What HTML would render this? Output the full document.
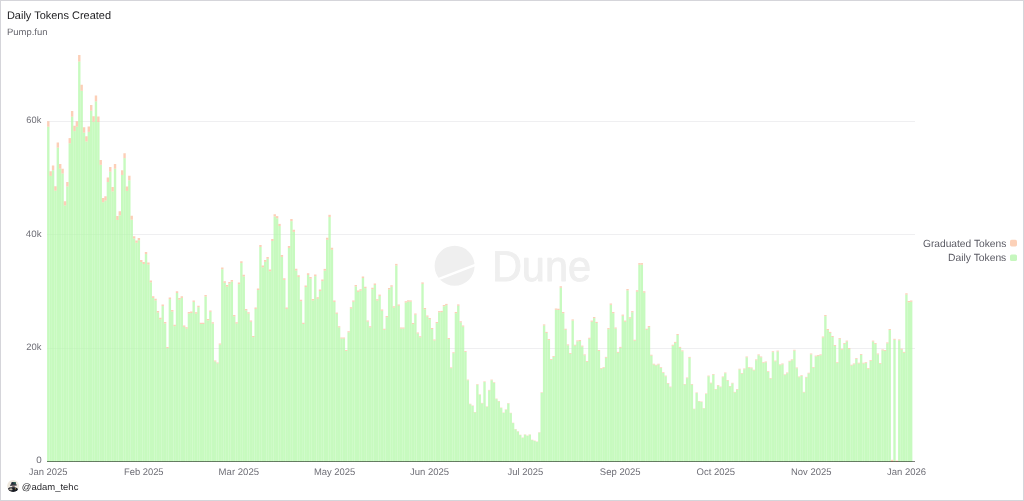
<!DOCTYPE html>
<html><head><meta charset="utf-8">
<style>
html,body{margin:0;padding:0;background:#fff;}
body{width:1024px;height:501px;overflow:hidden;position:relative;font-family:"Liberation Sans",sans-serif;}
.frame{position:absolute;left:0;top:0;width:1022px;height:499px;border:1px solid #d5d5da;}
.title{position:absolute;left:7px;top:7px;font-size:10.8px;color:#1d1d20;white-space:nowrap;line-height:13px;}
.sub{position:absolute;left:7px;top:25px;font-size:9.2px;color:#6e6e76;white-space:nowrap;line-height:12px;}
svg{position:absolute;left:0;top:0;will-change:transform;text-rendering:geometricPrecision;}
.tt text{font-family:"Liberation Sans",sans-serif;}
.ax text{font-family:"Liberation Sans",sans-serif;font-size:9.1px;fill:#6e6e76;}
.lg text{font-family:"Liberation Sans",sans-serif;font-size:10.1px;fill:#5a5a63;}
.user{position:absolute;left:23px;top:480px;font-size:9.2px;color:#35353a;white-space:nowrap;line-height:12px;}
</style></head><body>
<div class="frame"></div>
<svg width="1024" height="501" viewBox="0 0 1024 501">
<g fill="#efeff1">
<rect x="47" y="121" width="868" height="1"/>
<rect x="47" y="234" width="868" height="1"/>
<rect x="47" y="348" width="868" height="1"/>
</g>
<g fill="#efefef">
<circle cx="454.6" cy="265.8" r="20"/>
</g>
<line x1="430" y1="282.3" x2="480" y2="263.2" stroke="#fff" stroke-width="2.4"/>
<text transform="translate(491.9,281.3) scale(0.965,1)" font-family="Liberation Sans,sans-serif" font-size="43" fill="#efefef" stroke="#efefef" stroke-width="0.9" stroke-linejoin="round">Dune</text>
<g fill="rgba(180,248,170,0.75)" shape-rendering="auto">
<rect x="47.10" y="126.70" width="2.384" height="335.30"/><rect x="49.48" y="175.90" width="2.384" height="286.10"/><rect x="51.87" y="170.24" width="2.384" height="291.76"/><rect x="54.25" y="190.66" width="2.384" height="271.34"/><rect x="56.63" y="147.61" width="2.384" height="314.39"/><rect x="59.02" y="168.77" width="2.384" height="293.23"/><rect x="61.40" y="173.44" width="2.384" height="288.56"/><rect x="63.79" y="205.42" width="2.384" height="256.58"/><rect x="66.17" y="186.48" width="2.384" height="275.52"/><rect x="68.55" y="143.28" width="2.384" height="318.72"/><rect x="70.94" y="116.62" width="2.384" height="345.38"/><rect x="73.32" y="131.13" width="2.384" height="330.87"/><rect x="75.70" y="126.70" width="2.384" height="335.30"/><rect x="78.09" y="61.51" width="2.384" height="400.49"/><rect x="80.47" y="90.79" width="2.384" height="371.21"/><rect x="82.86" y="132.61" width="2.384" height="329.39"/><rect x="85.24" y="141.46" width="2.384" height="320.54"/><rect x="87.62" y="131.87" width="2.384" height="330.13"/><rect x="90.01" y="110.71" width="2.384" height="351.29"/><rect x="92.39" y="121.78" width="2.384" height="340.22"/><rect x="94.77" y="101.36" width="2.384" height="360.64"/><rect x="97.16" y="122.03" width="2.384" height="339.97"/><rect x="99.54" y="164.83" width="2.384" height="297.17"/><rect x="101.93" y="202.22" width="2.384" height="259.78"/><rect x="104.31" y="200.50" width="2.384" height="261.50"/><rect x="106.69" y="182.05" width="2.384" height="279.95"/><rect x="109.08" y="171.72" width="2.384" height="290.28"/><rect x="111.46" y="191.40" width="2.384" height="270.60"/><rect x="113.84" y="168.77" width="2.384" height="293.23"/><rect x="116.23" y="219.94" width="2.384" height="242.06"/><rect x="118.61" y="215.26" width="2.384" height="246.74"/><rect x="120.99" y="174.97" width="2.384" height="287.03"/><rect x="123.38" y="158.19" width="2.384" height="303.81"/><rect x="125.76" y="190.91" width="2.384" height="271.09"/><rect x="128.15" y="180.33" width="2.384" height="281.67"/><rect x="130.53" y="219.69" width="2.384" height="242.31"/><rect x="132.91" y="238.51" width="2.384" height="223.49"/><rect x="135.30" y="242.72" width="2.384" height="219.28"/><rect x="137.68" y="240.24" width="2.384" height="221.76"/><rect x="140.06" y="262.02" width="2.384" height="199.98"/><rect x="142.45" y="264.00" width="2.384" height="198.00"/><rect x="144.83" y="254.10" width="2.384" height="207.90"/><rect x="147.22" y="264.50" width="2.384" height="197.50"/><rect x="149.60" y="282.31" width="2.384" height="179.69"/><rect x="151.98" y="297.91" width="2.384" height="164.09"/><rect x="154.37" y="300.38" width="2.384" height="161.62"/><rect x="156.75" y="312.51" width="2.384" height="149.49"/><rect x="159.13" y="319.19" width="2.384" height="142.81"/><rect x="161.52" y="306.07" width="2.384" height="155.93"/><rect x="163.90" y="323.40" width="2.384" height="138.60"/><rect x="166.28" y="348.15" width="2.384" height="113.85"/><rect x="168.67" y="299.14" width="2.384" height="162.86"/><rect x="171.05" y="311.52" width="2.384" height="150.48"/><rect x="173.44" y="326.12" width="2.384" height="135.88"/><rect x="175.82" y="292.96" width="2.384" height="169.04"/><rect x="178.20" y="299.64" width="2.384" height="162.36"/><rect x="180.59" y="297.91" width="2.384" height="164.09"/><rect x="182.97" y="326.87" width="2.384" height="135.13"/><rect x="185.35" y="328.60" width="2.384" height="133.40"/><rect x="187.74" y="313.50" width="2.384" height="148.50"/><rect x="190.12" y="313.00" width="2.384" height="149.00"/><rect x="192.51" y="301.95" width="2.384" height="160.05"/><rect x="194.89" y="313.60" width="2.384" height="148.40"/><rect x="197.27" y="307.16" width="2.384" height="154.84"/><rect x="199.66" y="324.00" width="2.384" height="138.00"/><rect x="202.04" y="324.00" width="2.384" height="138.00"/><rect x="204.42" y="296.50" width="2.384" height="165.50"/><rect x="206.81" y="320.29" width="2.384" height="141.71"/><rect x="209.19" y="311.86" width="2.384" height="150.14"/><rect x="211.58" y="323.51" width="2.384" height="138.49"/><rect x="213.96" y="361.41" width="2.384" height="100.59"/><rect x="216.34" y="363.40" width="2.384" height="98.60"/><rect x="218.73" y="344.57" width="2.384" height="117.43"/><rect x="221.11" y="269.25" width="2.384" height="192.75"/><rect x="223.49" y="282.88" width="2.384" height="179.12"/><rect x="225.88" y="286.59" width="2.384" height="175.41"/><rect x="228.26" y="283.62" width="2.384" height="178.38"/><rect x="230.64" y="281.64" width="2.384" height="180.36"/><rect x="233.03" y="316.32" width="2.384" height="145.68"/><rect x="235.41" y="323.51" width="2.384" height="138.49"/><rect x="237.80" y="284.12" width="2.384" height="177.88"/><rect x="240.18" y="263.06" width="2.384" height="198.94"/><rect x="242.56" y="276.44" width="2.384" height="185.56"/><rect x="244.95" y="310.38" width="2.384" height="151.62"/><rect x="247.33" y="313.60" width="2.384" height="148.40"/><rect x="249.71" y="321.77" width="2.384" height="140.23"/><rect x="252.10" y="337.13" width="2.384" height="124.87"/><rect x="254.48" y="308.89" width="2.384" height="153.11"/><rect x="256.87" y="290.06" width="2.384" height="171.94"/><rect x="259.25" y="246.95" width="2.384" height="215.05"/><rect x="261.63" y="267.27" width="2.384" height="194.73"/><rect x="264.02" y="261.82" width="2.384" height="200.18"/><rect x="266.40" y="258.85" width="2.384" height="203.15"/><rect x="268.78" y="271.23" width="2.384" height="190.77"/><rect x="271.17" y="241.01" width="2.384" height="220.99"/><rect x="273.55" y="216.48" width="2.384" height="245.52"/><rect x="275.94" y="218.31" width="2.384" height="243.69"/><rect x="278.32" y="226.04" width="2.384" height="235.96"/><rect x="280.70" y="256.86" width="2.384" height="205.14"/><rect x="283.09" y="279.90" width="2.384" height="182.10"/><rect x="285.47" y="308.89" width="2.384" height="153.11"/><rect x="287.85" y="247.94" width="2.384" height="214.06"/><rect x="290.24" y="221.19" width="2.384" height="240.81"/><rect x="292.62" y="231.84" width="2.384" height="230.16"/><rect x="295.00" y="270.49" width="2.384" height="191.51"/><rect x="297.39" y="276.93" width="2.384" height="185.07"/><rect x="299.77" y="301.21" width="2.384" height="160.79"/><rect x="302.16" y="324.00" width="2.384" height="138.00"/><rect x="304.54" y="287.09" width="2.384" height="174.91"/><rect x="306.92" y="274.95" width="2.384" height="187.05"/><rect x="309.31" y="278.67" width="2.384" height="183.33"/><rect x="311.69" y="300.47" width="2.384" height="161.53"/><rect x="314.07" y="276.19" width="2.384" height="185.81"/><rect x="316.46" y="298.73" width="2.384" height="163.27"/><rect x="318.84" y="291.05" width="2.384" height="170.95"/><rect x="321.23" y="281.14" width="2.384" height="180.86"/><rect x="323.61" y="270.64" width="2.384" height="191.36"/><rect x="325.99" y="239.77" width="2.384" height="222.23"/><rect x="328.38" y="217.02" width="2.384" height="244.98"/><rect x="330.76" y="249.68" width="2.384" height="212.32"/><rect x="333.14" y="301.95" width="2.384" height="160.05"/><rect x="335.53" y="313.80" width="2.384" height="148.20"/><rect x="337.91" y="327.34" width="2.384" height="134.66"/><rect x="340.30" y="338.50" width="2.384" height="123.50"/><rect x="342.68" y="338.50" width="2.384" height="123.50"/><rect x="345.06" y="350.90" width="2.384" height="111.10"/><rect x="347.45" y="332.30" width="2.384" height="129.70"/><rect x="349.83" y="308.49" width="2.384" height="153.51"/><rect x="352.21" y="301.79" width="2.384" height="160.21"/><rect x="354.60" y="286.42" width="2.384" height="175.58"/><rect x="356.98" y="291.87" width="2.384" height="170.13"/><rect x="359.36" y="290.63" width="2.384" height="171.37"/><rect x="361.75" y="277.98" width="2.384" height="184.02"/><rect x="364.13" y="288.15" width="2.384" height="173.85"/><rect x="366.52" y="321.63" width="2.384" height="140.37"/><rect x="368.90" y="327.34" width="2.384" height="134.66"/><rect x="371.28" y="289.14" width="2.384" height="172.86"/><rect x="373.67" y="284.93" width="2.384" height="177.07"/><rect x="376.05" y="300.55" width="2.384" height="161.45"/><rect x="378.43" y="295.94" width="2.384" height="166.06"/><rect x="380.82" y="310.72" width="2.384" height="151.28"/><rect x="383.20" y="329.82" width="2.384" height="132.18"/><rect x="385.59" y="317.17" width="2.384" height="144.83"/><rect x="387.97" y="289.39" width="2.384" height="172.61"/><rect x="390.35" y="286.66" width="2.384" height="175.34"/><rect x="392.74" y="307.55" width="2.384" height="154.45"/><rect x="395.12" y="265.48" width="2.384" height="196.52"/><rect x="397.50" y="305.76" width="2.384" height="156.24"/><rect x="399.89" y="328.58" width="2.384" height="133.42"/><rect x="402.27" y="328.58" width="2.384" height="133.42"/><rect x="404.66" y="302.54" width="2.384" height="159.46"/><rect x="407.04" y="301.59" width="2.384" height="160.41"/><rect x="409.42" y="301.69" width="2.384" height="160.31"/><rect x="411.81" y="324.11" width="2.384" height="137.89"/><rect x="414.19" y="314.69" width="2.384" height="147.31"/><rect x="416.57" y="333.54" width="2.384" height="128.46"/><rect x="418.96" y="337.26" width="2.384" height="124.74"/><rect x="421.34" y="283.84" width="2.384" height="178.16"/><rect x="423.72" y="309.23" width="2.384" height="152.77"/><rect x="426.11" y="316.67" width="2.384" height="145.33"/><rect x="428.49" y="319.15" width="2.384" height="142.85"/><rect x="430.88" y="329.07" width="2.384" height="132.93"/><rect x="433.26" y="340.48" width="2.384" height="121.52"/><rect x="435.64" y="323.12" width="2.384" height="138.88"/><rect x="438.03" y="312.31" width="2.384" height="149.69"/><rect x="440.41" y="312.11" width="2.384" height="149.89"/><rect x="442.79" y="306.26" width="2.384" height="155.74"/><rect x="445.18" y="305.16" width="2.384" height="156.84"/><rect x="447.56" y="338.99" width="2.384" height="123.01"/><rect x="449.95" y="368.16" width="2.384" height="93.84"/><rect x="452.33" y="353.18" width="2.384" height="108.82"/><rect x="454.71" y="313.20" width="2.384" height="148.80"/><rect x="457.10" y="305.66" width="2.384" height="156.34"/><rect x="459.48" y="322.38" width="2.384" height="139.62"/><rect x="461.86" y="326.59" width="2.384" height="135.41"/><rect x="464.25" y="351.99" width="2.384" height="110.01"/><rect x="466.63" y="380.26" width="2.384" height="81.74"/><rect x="469.01" y="404.22" width="2.384" height="57.78"/><rect x="471.40" y="405.95" width="2.384" height="56.05"/><rect x="473.78" y="412.40" width="2.384" height="49.60"/><rect x="476.17" y="384.82" width="2.384" height="77.18"/><rect x="478.55" y="394.94" width="2.384" height="67.06"/><rect x="480.93" y="403.37" width="2.384" height="58.63"/><rect x="483.32" y="382.04" width="2.384" height="79.96"/><rect x="485.70" y="406.84" width="2.384" height="55.16"/><rect x="488.08" y="390.48" width="2.384" height="71.52"/><rect x="490.47" y="380.26" width="2.384" height="81.74"/><rect x="492.85" y="382.94" width="2.384" height="79.06"/><rect x="495.24" y="399.11" width="2.384" height="62.89"/><rect x="497.62" y="401.49" width="2.384" height="60.51"/><rect x="500.00" y="408.04" width="2.384" height="53.96"/><rect x="502.39" y="413.00" width="2.384" height="49.00"/><rect x="504.77" y="409.82" width="2.384" height="52.18"/><rect x="507.15" y="403.57" width="2.384" height="58.43"/><rect x="509.54" y="413.19" width="2.384" height="48.81"/><rect x="511.92" y="423.10" width="2.384" height="38.90"/><rect x="514.31" y="429.35" width="2.384" height="32.65"/><rect x="516.69" y="431.60" width="2.384" height="30.40"/><rect x="519.07" y="435.10" width="2.384" height="26.90"/><rect x="521.46" y="437.85" width="2.384" height="24.15"/><rect x="523.84" y="434.75" width="2.384" height="27.25"/><rect x="526.22" y="435.95" width="2.384" height="26.05"/><rect x="528.61" y="434.75" width="2.384" height="27.25"/><rect x="530.99" y="440.10" width="2.384" height="21.90"/><rect x="533.37" y="440.95" width="2.384" height="21.05"/><rect x="535.76" y="441.85" width="2.384" height="20.15"/><rect x="538.14" y="432.60" width="2.384" height="29.40"/><rect x="540.53" y="392.81" width="2.384" height="69.19"/><rect x="542.91" y="325.50" width="2.384" height="136.50"/><rect x="545.29" y="332.94" width="2.384" height="129.06"/><rect x="547.68" y="340.08" width="2.384" height="121.92"/><rect x="550.06" y="359.82" width="2.384" height="102.18"/><rect x="552.44" y="356.95" width="2.384" height="105.05"/><rect x="554.83" y="309.73" width="2.384" height="152.27"/><rect x="557.21" y="309.98" width="2.384" height="152.02"/><rect x="559.60" y="287.66" width="2.384" height="174.34"/><rect x="561.98" y="313.20" width="2.384" height="148.80"/><rect x="564.36" y="329.82" width="2.384" height="132.18"/><rect x="566.75" y="345.34" width="2.384" height="116.66"/><rect x="569.13" y="353.97" width="2.384" height="108.03"/><rect x="571.51" y="320.54" width="2.384" height="141.46"/><rect x="573.90" y="345.69" width="2.384" height="116.31"/><rect x="576.28" y="341.37" width="2.384" height="120.63"/><rect x="578.67" y="340.98" width="2.384" height="121.02"/><rect x="581.05" y="346.53" width="2.384" height="115.47"/><rect x="583.43" y="355.26" width="2.384" height="106.74"/><rect x="585.82" y="361.81" width="2.384" height="100.19"/><rect x="588.20" y="338.74" width="2.384" height="123.26"/><rect x="590.58" y="321.73" width="2.384" height="140.27"/><rect x="592.97" y="318.16" width="2.384" height="143.84"/><rect x="595.35" y="323.02" width="2.384" height="138.98"/><rect x="597.73" y="350.90" width="2.384" height="111.10"/><rect x="600.12" y="368.85" width="2.384" height="93.15"/><rect x="602.50" y="368.01" width="2.384" height="93.99"/><rect x="604.89" y="357.74" width="2.384" height="104.26"/><rect x="607.27" y="329.17" width="2.384" height="132.83"/><rect x="609.65" y="304.77" width="2.384" height="157.23"/><rect x="612.04" y="313.20" width="2.384" height="148.80"/><rect x="614.42" y="328.58" width="2.384" height="133.42"/><rect x="616.80" y="352.78" width="2.384" height="109.22"/><rect x="619.19" y="347.82" width="2.384" height="114.18"/><rect x="621.57" y="315.78" width="2.384" height="146.22"/><rect x="623.96" y="321.73" width="2.384" height="140.27"/><rect x="626.34" y="290.38" width="2.384" height="171.62"/><rect x="628.72" y="318.41" width="2.384" height="143.59"/><rect x="631.11" y="312.31" width="2.384" height="149.69"/><rect x="633.49" y="340.73" width="2.384" height="121.27"/><rect x="635.87" y="291.62" width="2.384" height="170.38"/><rect x="638.26" y="264.69" width="2.384" height="197.31"/><rect x="640.64" y="264.69" width="2.384" height="197.31"/><rect x="643.03" y="292.62" width="2.384" height="169.38"/><rect x="645.41" y="329.82" width="2.384" height="132.18"/><rect x="647.79" y="327.09" width="2.384" height="134.91"/><rect x="650.18" y="355.61" width="2.384" height="106.39"/><rect x="652.56" y="364.54" width="2.384" height="97.46"/><rect x="654.94" y="365.53" width="2.384" height="96.47"/><rect x="657.33" y="364.54" width="2.384" height="97.46"/><rect x="659.71" y="368.01" width="2.384" height="93.99"/><rect x="662.09" y="372.97" width="2.384" height="89.03"/><rect x="664.48" y="376.29" width="2.384" height="85.71"/><rect x="666.86" y="383.63" width="2.384" height="78.37"/><rect x="669.25" y="387.20" width="2.384" height="74.80"/><rect x="671.63" y="345.69" width="2.384" height="116.31"/><rect x="674.01" y="342.86" width="2.384" height="119.14"/><rect x="676.40" y="335.02" width="2.384" height="126.98"/><rect x="678.78" y="347.82" width="2.384" height="114.18"/><rect x="681.16" y="351.29" width="2.384" height="110.71"/><rect x="683.55" y="384.62" width="2.384" height="77.38"/><rect x="685.93" y="378.18" width="2.384" height="83.82"/><rect x="688.32" y="357.74" width="2.384" height="104.26"/><rect x="690.70" y="384.62" width="2.384" height="77.38"/><rect x="693.08" y="409.18" width="2.384" height="52.82"/><rect x="695.47" y="393.06" width="2.384" height="68.94"/><rect x="697.85" y="401.49" width="2.384" height="60.51"/><rect x="700.23" y="401.98" width="2.384" height="60.02"/><rect x="702.62" y="408.53" width="2.384" height="53.47"/><rect x="705.00" y="394.05" width="2.384" height="67.95"/><rect x="707.38" y="376.29" width="2.384" height="85.71"/><rect x="709.77" y="383.33" width="2.384" height="78.67"/><rect x="712.15" y="374.70" width="2.384" height="87.30"/><rect x="714.54" y="389.58" width="2.384" height="72.42"/><rect x="716.92" y="385.62" width="2.384" height="76.38"/><rect x="719.30" y="387.20" width="2.384" height="74.80"/><rect x="721.69" y="377.18" width="2.384" height="84.82"/><rect x="724.07" y="373.22" width="2.384" height="88.78"/><rect x="726.45" y="380.66" width="2.384" height="81.34"/><rect x="728.84" y="386.61" width="2.384" height="75.39"/><rect x="731.22" y="383.43" width="2.384" height="78.57"/><rect x="733.61" y="392.46" width="2.384" height="69.54"/><rect x="735.99" y="389.58" width="2.384" height="72.42"/><rect x="738.37" y="369.50" width="2.384" height="92.50"/><rect x="740.76" y="373.81" width="2.384" height="88.19"/><rect x="743.14" y="369.25" width="2.384" height="92.75"/><rect x="745.52" y="357.34" width="2.384" height="104.66"/><rect x="747.91" y="368.01" width="2.384" height="93.99"/><rect x="750.29" y="368.26" width="2.384" height="93.74"/><rect x="752.68" y="370.49" width="2.384" height="91.51"/><rect x="755.06" y="360.22" width="2.384" height="101.78"/><rect x="757.44" y="355.26" width="2.384" height="106.74"/><rect x="759.83" y="357.34" width="2.384" height="104.66"/><rect x="762.21" y="363.05" width="2.384" height="98.95"/><rect x="764.59" y="362.30" width="2.384" height="99.70"/><rect x="766.98" y="371.98" width="2.384" height="90.02"/><rect x="769.36" y="378.77" width="2.384" height="83.23"/><rect x="771.74" y="352.14" width="2.384" height="109.86"/><rect x="774.13" y="361.41" width="2.384" height="100.59"/><rect x="776.51" y="351.49" width="2.384" height="110.51"/><rect x="778.90" y="365.18" width="2.384" height="96.82"/><rect x="781.28" y="364.29" width="2.384" height="97.71"/><rect x="783.66" y="375.10" width="2.384" height="86.90"/><rect x="786.05" y="373.22" width="2.384" height="88.78"/><rect x="788.43" y="361.61" width="2.384" height="100.39"/><rect x="790.81" y="360.22" width="2.384" height="101.78"/><rect x="793.20" y="350.65" width="2.384" height="111.35"/><rect x="795.58" y="368.26" width="2.384" height="93.74"/><rect x="797.97" y="377.18" width="2.384" height="84.82"/><rect x="800.35" y="375.94" width="2.384" height="86.06"/><rect x="802.73" y="392.46" width="2.384" height="69.54"/><rect x="805.12" y="377.58" width="2.384" height="84.42"/><rect x="807.50" y="373.46" width="2.384" height="88.54"/><rect x="809.88" y="354.37" width="2.384" height="107.63"/><rect x="812.27" y="367.86" width="2.384" height="94.14"/><rect x="814.65" y="356.45" width="2.384" height="105.55"/><rect x="817.04" y="355.86" width="2.384" height="106.14"/><rect x="819.42" y="355.26" width="2.384" height="106.74"/><rect x="821.80" y="337.50" width="2.384" height="124.50"/><rect x="824.19" y="316.18" width="2.384" height="145.82"/><rect x="826.57" y="330.06" width="2.384" height="131.94"/><rect x="828.95" y="332.94" width="2.384" height="129.06"/><rect x="831.34" y="337.01" width="2.384" height="124.99"/><rect x="833.72" y="345.94" width="2.384" height="116.06"/><rect x="836.10" y="363.05" width="2.384" height="98.95"/><rect x="838.49" y="339.09" width="2.384" height="122.91"/><rect x="840.87" y="349.66" width="2.384" height="112.34"/><rect x="843.26" y="344.05" width="2.384" height="117.95"/><rect x="845.64" y="341.57" width="2.384" height="120.43"/><rect x="848.02" y="349.01" width="2.384" height="112.99"/><rect x="850.41" y="365.53" width="2.384" height="96.47"/><rect x="852.79" y="364.29" width="2.384" height="97.71"/><rect x="855.17" y="358.93" width="2.384" height="103.07"/><rect x="857.56" y="363.54" width="2.384" height="98.46"/><rect x="859.94" y="354.86" width="2.384" height="107.14"/><rect x="862.33" y="363.54" width="2.384" height="98.46"/><rect x="864.71" y="363.05" width="2.384" height="98.95"/><rect x="867.09" y="368.85" width="2.384" height="93.15"/><rect x="869.48" y="360.92" width="2.384" height="101.08"/><rect x="871.86" y="341.57" width="2.384" height="120.43"/><rect x="874.24" y="344.05" width="2.384" height="117.95"/><rect x="876.63" y="354.37" width="2.384" height="107.63"/><rect x="879.01" y="363.89" width="2.384" height="98.11"/><rect x="881.40" y="350.30" width="2.384" height="111.70"/><rect x="883.78" y="350.90" width="2.384" height="111.10"/><rect x="886.16" y="343.36" width="2.384" height="118.64"/><rect x="888.55" y="330.06" width="2.384" height="131.94"/><rect x="893.31" y="339.79" width="2.384" height="122.21"/><rect x="898.08" y="340.38" width="2.384" height="121.62"/><rect x="900.46" y="349.61" width="2.384" height="112.39"/><rect x="902.85" y="352.78" width="2.384" height="109.22"/><rect x="905.23" y="294.65" width="2.384" height="167.35"/><rect x="907.62" y="302.29" width="2.384" height="159.71"/><rect x="910.00" y="301.79" width="2.384" height="160.21"/>
</g>
<g fill="rgba(251,191,159,0.75)">
<rect x="47.10" y="121.25" width="2.384" height="5.45"/><rect x="49.48" y="171.25" width="2.384" height="4.65"/><rect x="51.87" y="165.50" width="2.384" height="4.74"/><rect x="54.25" y="186.25" width="2.384" height="4.41"/><rect x="56.63" y="142.50" width="2.384" height="5.11"/><rect x="59.02" y="164.00" width="2.384" height="4.77"/><rect x="61.40" y="168.75" width="2.384" height="4.69"/><rect x="63.79" y="201.25" width="2.384" height="4.17"/><rect x="66.17" y="182.00" width="2.384" height="4.48"/><rect x="68.55" y="138.10" width="2.384" height="5.18"/><rect x="70.94" y="111.00" width="2.384" height="5.62"/><rect x="73.32" y="125.75" width="2.384" height="5.38"/><rect x="75.70" y="121.25" width="2.384" height="5.45"/><rect x="78.09" y="55.00" width="2.384" height="6.51"/><rect x="80.47" y="84.75" width="2.384" height="6.04"/><rect x="82.86" y="127.25" width="2.384" height="5.36"/><rect x="85.24" y="136.25" width="2.384" height="5.21"/><rect x="87.62" y="126.50" width="2.384" height="5.37"/><rect x="90.01" y="105.00" width="2.384" height="5.71"/><rect x="92.39" y="116.25" width="2.384" height="5.53"/><rect x="94.77" y="95.50" width="2.384" height="5.86"/><rect x="97.16" y="116.50" width="2.384" height="5.53"/><rect x="99.54" y="160.00" width="2.384" height="4.83"/><rect x="101.93" y="198.00" width="2.384" height="4.22"/><rect x="104.31" y="196.25" width="2.384" height="4.25"/><rect x="106.69" y="177.50" width="2.384" height="4.55"/><rect x="109.08" y="167.00" width="2.384" height="4.72"/><rect x="111.46" y="187.00" width="2.384" height="4.40"/><rect x="113.84" y="164.00" width="2.384" height="4.77"/><rect x="116.23" y="216.00" width="2.384" height="3.94"/><rect x="118.61" y="211.25" width="2.384" height="4.01"/><rect x="120.99" y="170.30" width="2.384" height="4.67"/><rect x="123.38" y="153.25" width="2.384" height="4.94"/><rect x="125.76" y="186.50" width="2.384" height="4.41"/><rect x="128.15" y="175.75" width="2.384" height="4.58"/><rect x="130.53" y="215.75" width="2.384" height="3.94"/><rect x="132.91" y="236.25" width="2.384" height="2.26"/><rect x="135.30" y="240.50" width="2.384" height="2.21"/><rect x="137.68" y="238.00" width="2.384" height="2.24"/><rect x="140.06" y="260.00" width="2.384" height="2.02"/><rect x="142.45" y="262.00" width="2.384" height="2.00"/><rect x="144.83" y="252.00" width="2.384" height="2.10"/><rect x="147.22" y="262.50" width="2.384" height="2.00"/><rect x="149.60" y="280.50" width="2.384" height="1.81"/><rect x="151.98" y="296.25" width="2.384" height="1.66"/><rect x="154.37" y="298.75" width="2.384" height="1.63"/><rect x="156.75" y="311.00" width="2.384" height="1.51"/><rect x="159.13" y="317.75" width="2.384" height="1.44"/><rect x="161.52" y="304.50" width="2.384" height="1.57"/><rect x="163.90" y="322.00" width="2.384" height="1.40"/><rect x="166.28" y="347.00" width="2.384" height="1.15"/><rect x="168.67" y="297.50" width="2.384" height="1.65"/><rect x="171.05" y="310.00" width="2.384" height="1.52"/><rect x="173.44" y="324.75" width="2.384" height="1.37"/><rect x="175.82" y="291.25" width="2.384" height="1.71"/><rect x="178.20" y="298.00" width="2.384" height="1.64"/><rect x="180.59" y="296.25" width="2.384" height="1.66"/><rect x="182.97" y="325.50" width="2.384" height="1.36"/><rect x="185.35" y="327.25" width="2.384" height="1.35"/><rect x="187.74" y="312.00" width="2.384" height="1.50"/><rect x="190.12" y="311.50" width="2.384" height="1.51"/><rect x="192.51" y="300.50" width="2.384" height="1.45"/><rect x="194.89" y="312.25" width="2.384" height="1.35"/><rect x="197.27" y="305.75" width="2.384" height="1.41"/><rect x="199.66" y="322.75" width="2.384" height="1.25"/><rect x="202.04" y="322.75" width="2.384" height="1.25"/><rect x="204.42" y="295.00" width="2.384" height="1.50"/><rect x="206.81" y="319.00" width="2.384" height="1.29"/><rect x="209.19" y="310.50" width="2.384" height="1.36"/><rect x="211.58" y="322.25" width="2.384" height="1.26"/><rect x="213.96" y="360.50" width="2.384" height="0.91"/><rect x="216.34" y="362.50" width="2.384" height="0.90"/><rect x="218.73" y="343.50" width="2.384" height="1.07"/><rect x="221.11" y="267.50" width="2.384" height="1.75"/><rect x="223.49" y="281.25" width="2.384" height="1.63"/><rect x="225.88" y="285.00" width="2.384" height="1.59"/><rect x="228.26" y="282.00" width="2.384" height="1.62"/><rect x="230.64" y="280.00" width="2.384" height="1.64"/><rect x="233.03" y="315.00" width="2.384" height="1.32"/><rect x="235.41" y="322.25" width="2.384" height="1.26"/><rect x="237.80" y="282.50" width="2.384" height="1.62"/><rect x="240.18" y="261.25" width="2.384" height="1.81"/><rect x="242.56" y="274.75" width="2.384" height="1.69"/><rect x="244.95" y="309.00" width="2.384" height="1.38"/><rect x="247.33" y="312.25" width="2.384" height="1.35"/><rect x="249.71" y="320.50" width="2.384" height="1.27"/><rect x="252.10" y="336.00" width="2.384" height="1.13"/><rect x="254.48" y="307.50" width="2.384" height="1.39"/><rect x="256.87" y="288.50" width="2.384" height="1.56"/><rect x="259.25" y="245.00" width="2.384" height="1.95"/><rect x="261.63" y="265.50" width="2.384" height="1.77"/><rect x="264.02" y="260.00" width="2.384" height="1.82"/><rect x="266.40" y="257.00" width="2.384" height="1.84"/><rect x="268.78" y="269.50" width="2.384" height="1.73"/><rect x="271.17" y="239.00" width="2.384" height="2.01"/><rect x="273.55" y="214.25" width="2.384" height="2.23"/><rect x="275.94" y="216.10" width="2.384" height="2.21"/><rect x="278.32" y="223.90" width="2.384" height="2.14"/><rect x="280.70" y="255.00" width="2.384" height="1.86"/><rect x="283.09" y="278.25" width="2.384" height="1.65"/><rect x="285.47" y="307.50" width="2.384" height="1.39"/><rect x="287.85" y="246.00" width="2.384" height="1.94"/><rect x="290.24" y="219.00" width="2.384" height="2.19"/><rect x="292.62" y="229.75" width="2.384" height="2.09"/><rect x="295.00" y="268.75" width="2.384" height="1.74"/><rect x="297.39" y="275.25" width="2.384" height="1.68"/><rect x="299.77" y="299.75" width="2.384" height="1.46"/><rect x="302.16" y="322.75" width="2.384" height="1.25"/><rect x="304.54" y="285.50" width="2.384" height="1.59"/><rect x="306.92" y="273.25" width="2.384" height="1.70"/><rect x="309.31" y="277.00" width="2.384" height="1.66"/><rect x="311.69" y="299.00" width="2.384" height="1.47"/><rect x="314.07" y="274.50" width="2.384" height="1.69"/><rect x="316.46" y="297.25" width="2.384" height="1.48"/><rect x="318.84" y="289.50" width="2.384" height="1.55"/><rect x="321.23" y="279.50" width="2.384" height="1.64"/><rect x="323.61" y="268.90" width="2.384" height="1.74"/><rect x="325.99" y="237.75" width="2.384" height="2.02"/><rect x="328.38" y="214.80" width="2.384" height="2.22"/><rect x="330.76" y="247.75" width="2.384" height="1.93"/><rect x="333.14" y="300.50" width="2.384" height="1.45"/><rect x="335.53" y="312.60" width="2.384" height="1.20"/><rect x="337.91" y="326.25" width="2.384" height="1.09"/><rect x="340.30" y="337.50" width="2.384" height="1.00"/><rect x="342.68" y="337.50" width="2.384" height="1.00"/><rect x="345.06" y="350.00" width="2.384" height="0.90"/><rect x="347.45" y="331.25" width="2.384" height="1.05"/><rect x="349.83" y="307.25" width="2.384" height="1.24"/><rect x="352.21" y="300.50" width="2.384" height="1.29"/><rect x="354.60" y="285.00" width="2.384" height="1.42"/><rect x="356.98" y="290.50" width="2.384" height="1.37"/><rect x="359.36" y="289.25" width="2.384" height="1.38"/><rect x="361.75" y="276.50" width="2.384" height="1.48"/><rect x="364.13" y="286.75" width="2.384" height="1.40"/><rect x="366.52" y="320.50" width="2.384" height="1.13"/><rect x="368.90" y="326.25" width="2.384" height="1.09"/><rect x="371.28" y="287.75" width="2.384" height="1.39"/><rect x="373.67" y="283.50" width="2.384" height="1.43"/><rect x="376.05" y="299.25" width="2.384" height="1.30"/><rect x="378.43" y="294.60" width="2.384" height="1.34"/><rect x="380.82" y="309.50" width="2.384" height="1.22"/><rect x="383.20" y="328.75" width="2.384" height="1.07"/><rect x="385.59" y="316.00" width="2.384" height="1.17"/><rect x="387.97" y="288.00" width="2.384" height="1.39"/><rect x="390.35" y="285.25" width="2.384" height="1.41"/><rect x="392.74" y="306.30" width="2.384" height="1.25"/><rect x="395.12" y="263.90" width="2.384" height="1.58"/><rect x="397.50" y="304.50" width="2.384" height="1.26"/><rect x="399.89" y="327.50" width="2.384" height="1.08"/><rect x="402.27" y="327.50" width="2.384" height="1.08"/><rect x="404.66" y="301.25" width="2.384" height="1.29"/><rect x="407.04" y="300.30" width="2.384" height="1.29"/><rect x="409.42" y="300.40" width="2.384" height="1.29"/><rect x="411.81" y="323.00" width="2.384" height="1.11"/><rect x="414.19" y="313.50" width="2.384" height="1.19"/><rect x="416.57" y="332.50" width="2.384" height="1.04"/><rect x="418.96" y="336.25" width="2.384" height="1.01"/><rect x="421.34" y="282.40" width="2.384" height="1.44"/><rect x="423.72" y="308.00" width="2.384" height="1.23"/><rect x="426.11" y="315.50" width="2.384" height="1.17"/><rect x="428.49" y="318.00" width="2.384" height="1.15"/><rect x="430.88" y="328.00" width="2.384" height="1.07"/><rect x="433.26" y="339.50" width="2.384" height="0.98"/><rect x="435.64" y="322.00" width="2.384" height="1.12"/><rect x="438.03" y="311.10" width="2.384" height="1.21"/><rect x="440.41" y="310.90" width="2.384" height="1.21"/><rect x="442.79" y="305.00" width="2.384" height="1.26"/><rect x="445.18" y="303.90" width="2.384" height="1.26"/><rect x="447.56" y="338.00" width="2.384" height="0.99"/><rect x="449.95" y="367.40" width="2.384" height="0.76"/><rect x="452.33" y="352.30" width="2.384" height="0.88"/><rect x="454.71" y="312.00" width="2.384" height="1.20"/><rect x="457.10" y="304.40" width="2.384" height="1.26"/><rect x="459.48" y="321.25" width="2.384" height="1.13"/><rect x="461.86" y="325.50" width="2.384" height="1.09"/><rect x="464.25" y="351.10" width="2.384" height="0.89"/><rect x="466.63" y="379.60" width="2.384" height="0.66"/><rect x="469.01" y="403.75" width="2.384" height="0.47"/><rect x="471.40" y="405.50" width="2.384" height="0.45"/><rect x="473.78" y="412.00" width="2.384" height="0.40"/><rect x="476.17" y="384.20" width="2.384" height="0.62"/><rect x="478.55" y="394.40" width="2.384" height="0.54"/><rect x="480.93" y="402.90" width="2.384" height="0.47"/><rect x="483.32" y="381.40" width="2.384" height="0.64"/><rect x="485.70" y="406.40" width="2.384" height="0.44"/><rect x="488.08" y="389.90" width="2.384" height="0.58"/><rect x="490.47" y="379.60" width="2.384" height="0.66"/><rect x="492.85" y="382.30" width="2.384" height="0.64"/><rect x="495.24" y="398.60" width="2.384" height="0.51"/><rect x="497.62" y="401.00" width="2.384" height="0.49"/><rect x="500.00" y="407.60" width="2.384" height="0.44"/><rect x="502.39" y="412.60" width="2.384" height="0.40"/><rect x="504.77" y="409.40" width="2.384" height="0.42"/><rect x="507.15" y="403.10" width="2.384" height="0.47"/><rect x="509.54" y="412.80" width="2.384" height="0.39"/><rect x="511.92" y="422.75" width="2.384" height="0.35"/><rect x="514.31" y="429.00" width="2.384" height="0.35"/><rect x="516.69" y="431.25" width="2.384" height="0.35"/><rect x="519.07" y="434.75" width="2.384" height="0.35"/><rect x="521.46" y="437.50" width="2.384" height="0.35"/><rect x="523.84" y="434.40" width="2.384" height="0.35"/><rect x="526.22" y="435.60" width="2.384" height="0.35"/><rect x="528.61" y="434.40" width="2.384" height="0.35"/><rect x="530.99" y="439.75" width="2.384" height="0.35"/><rect x="533.37" y="440.60" width="2.384" height="0.35"/><rect x="535.76" y="441.50" width="2.384" height="0.35"/><rect x="538.14" y="432.25" width="2.384" height="0.35"/><rect x="540.53" y="392.25" width="2.384" height="0.56"/><rect x="542.91" y="324.40" width="2.384" height="1.10"/><rect x="545.29" y="331.90" width="2.384" height="1.04"/><rect x="547.68" y="339.10" width="2.384" height="0.98"/><rect x="550.06" y="359.00" width="2.384" height="0.82"/><rect x="552.44" y="356.10" width="2.384" height="0.85"/><rect x="554.83" y="308.50" width="2.384" height="1.23"/><rect x="557.21" y="308.75" width="2.384" height="1.23"/><rect x="559.60" y="286.25" width="2.384" height="1.41"/><rect x="561.98" y="312.00" width="2.384" height="1.20"/><rect x="564.36" y="328.75" width="2.384" height="1.07"/><rect x="566.75" y="344.40" width="2.384" height="0.94"/><rect x="569.13" y="353.10" width="2.384" height="0.87"/><rect x="571.51" y="319.40" width="2.384" height="1.14"/><rect x="573.90" y="344.75" width="2.384" height="0.94"/><rect x="576.28" y="340.40" width="2.384" height="0.97"/><rect x="578.67" y="340.00" width="2.384" height="0.98"/><rect x="581.05" y="345.60" width="2.384" height="0.93"/><rect x="583.43" y="354.40" width="2.384" height="0.86"/><rect x="585.82" y="361.00" width="2.384" height="0.81"/><rect x="588.20" y="337.75" width="2.384" height="0.99"/><rect x="590.58" y="320.60" width="2.384" height="1.13"/><rect x="592.97" y="317.00" width="2.384" height="1.16"/><rect x="595.35" y="321.90" width="2.384" height="1.12"/><rect x="597.73" y="350.00" width="2.384" height="0.90"/><rect x="600.12" y="368.10" width="2.384" height="0.75"/><rect x="602.50" y="367.25" width="2.384" height="0.76"/><rect x="604.89" y="356.90" width="2.384" height="0.84"/><rect x="607.27" y="328.10" width="2.384" height="1.07"/><rect x="609.65" y="303.50" width="2.384" height="1.27"/><rect x="612.04" y="312.00" width="2.384" height="1.20"/><rect x="614.42" y="327.50" width="2.384" height="1.08"/><rect x="616.80" y="351.90" width="2.384" height="0.88"/><rect x="619.19" y="346.90" width="2.384" height="0.92"/><rect x="621.57" y="314.60" width="2.384" height="1.18"/><rect x="623.96" y="320.60" width="2.384" height="1.13"/><rect x="626.34" y="289.00" width="2.384" height="1.38"/><rect x="628.72" y="317.25" width="2.384" height="1.16"/><rect x="631.11" y="311.10" width="2.384" height="1.21"/><rect x="633.49" y="339.75" width="2.384" height="0.98"/><rect x="635.87" y="290.25" width="2.384" height="1.37"/><rect x="638.26" y="263.10" width="2.384" height="1.59"/><rect x="640.64" y="263.10" width="2.384" height="1.59"/><rect x="643.03" y="291.25" width="2.384" height="1.37"/><rect x="645.41" y="328.75" width="2.384" height="1.07"/><rect x="647.79" y="326.00" width="2.384" height="1.09"/><rect x="650.18" y="354.75" width="2.384" height="0.86"/><rect x="652.56" y="363.75" width="2.384" height="0.79"/><rect x="654.94" y="364.75" width="2.384" height="0.78"/><rect x="657.33" y="363.75" width="2.384" height="0.79"/><rect x="659.71" y="367.25" width="2.384" height="0.76"/><rect x="662.09" y="372.25" width="2.384" height="0.72"/><rect x="664.48" y="375.60" width="2.384" height="0.69"/><rect x="666.86" y="383.00" width="2.384" height="0.63"/><rect x="669.25" y="386.60" width="2.384" height="0.60"/><rect x="671.63" y="344.75" width="2.384" height="0.94"/><rect x="674.01" y="341.90" width="2.384" height="0.96"/><rect x="676.40" y="334.00" width="2.384" height="1.02"/><rect x="678.78" y="346.90" width="2.384" height="0.92"/><rect x="681.16" y="350.40" width="2.384" height="0.89"/><rect x="683.55" y="384.00" width="2.384" height="0.62"/><rect x="685.93" y="377.50" width="2.384" height="0.68"/><rect x="688.32" y="356.90" width="2.384" height="0.84"/><rect x="690.70" y="384.00" width="2.384" height="0.62"/><rect x="693.08" y="408.75" width="2.384" height="0.43"/><rect x="695.47" y="392.50" width="2.384" height="0.56"/><rect x="697.85" y="401.00" width="2.384" height="0.49"/><rect x="700.23" y="401.50" width="2.384" height="0.48"/><rect x="702.62" y="408.10" width="2.384" height="0.43"/><rect x="705.00" y="393.50" width="2.384" height="0.55"/><rect x="707.38" y="375.60" width="2.384" height="0.69"/><rect x="709.77" y="382.70" width="2.384" height="0.63"/><rect x="712.15" y="374.00" width="2.384" height="0.70"/><rect x="714.54" y="389.00" width="2.384" height="0.58"/><rect x="716.92" y="385.00" width="2.384" height="0.62"/><rect x="719.30" y="386.60" width="2.384" height="0.60"/><rect x="721.69" y="376.50" width="2.384" height="0.68"/><rect x="724.07" y="372.50" width="2.384" height="0.72"/><rect x="726.45" y="380.00" width="2.384" height="0.66"/><rect x="728.84" y="386.00" width="2.384" height="0.61"/><rect x="731.22" y="382.80" width="2.384" height="0.63"/><rect x="733.61" y="391.90" width="2.384" height="0.56"/><rect x="735.99" y="389.00" width="2.384" height="0.58"/><rect x="738.37" y="368.75" width="2.384" height="0.75"/><rect x="740.76" y="373.10" width="2.384" height="0.71"/><rect x="743.14" y="368.50" width="2.384" height="0.75"/><rect x="745.52" y="356.50" width="2.384" height="0.84"/><rect x="747.91" y="367.25" width="2.384" height="0.76"/><rect x="750.29" y="367.50" width="2.384" height="0.76"/><rect x="752.68" y="369.75" width="2.384" height="0.74"/><rect x="755.06" y="359.40" width="2.384" height="0.82"/><rect x="757.44" y="354.40" width="2.384" height="0.86"/><rect x="759.83" y="356.50" width="2.384" height="0.84"/><rect x="762.21" y="362.25" width="2.384" height="0.80"/><rect x="764.59" y="361.50" width="2.384" height="0.80"/><rect x="766.98" y="371.25" width="2.384" height="0.73"/><rect x="769.36" y="378.10" width="2.384" height="0.67"/><rect x="771.74" y="351.25" width="2.384" height="0.89"/><rect x="774.13" y="360.60" width="2.384" height="0.81"/><rect x="776.51" y="350.60" width="2.384" height="0.89"/><rect x="778.90" y="364.40" width="2.384" height="0.78"/><rect x="781.28" y="363.50" width="2.384" height="0.79"/><rect x="783.66" y="374.40" width="2.384" height="0.70"/><rect x="786.05" y="372.50" width="2.384" height="0.72"/><rect x="788.43" y="360.80" width="2.384" height="0.81"/><rect x="790.81" y="359.40" width="2.384" height="0.82"/><rect x="793.20" y="349.75" width="2.384" height="0.90"/><rect x="795.58" y="367.50" width="2.384" height="0.76"/><rect x="797.97" y="376.50" width="2.384" height="0.68"/><rect x="800.35" y="375.25" width="2.384" height="0.69"/><rect x="802.73" y="391.90" width="2.384" height="0.56"/><rect x="805.12" y="376.90" width="2.384" height="0.68"/><rect x="807.50" y="372.75" width="2.384" height="0.71"/><rect x="809.88" y="353.50" width="2.384" height="0.87"/><rect x="812.27" y="367.10" width="2.384" height="0.76"/><rect x="814.65" y="355.60" width="2.384" height="0.85"/><rect x="817.04" y="355.00" width="2.384" height="0.86"/><rect x="819.42" y="354.40" width="2.384" height="0.86"/><rect x="821.80" y="336.50" width="2.384" height="1.00"/><rect x="824.19" y="315.00" width="2.384" height="1.18"/><rect x="826.57" y="329.00" width="2.384" height="1.06"/><rect x="828.95" y="331.90" width="2.384" height="1.04"/><rect x="831.34" y="336.00" width="2.384" height="1.01"/><rect x="833.72" y="345.00" width="2.384" height="0.94"/><rect x="836.10" y="362.25" width="2.384" height="0.80"/><rect x="838.49" y="338.10" width="2.384" height="0.99"/><rect x="840.87" y="348.75" width="2.384" height="0.91"/><rect x="843.26" y="343.10" width="2.384" height="0.95"/><rect x="845.64" y="340.60" width="2.384" height="0.97"/><rect x="848.02" y="348.10" width="2.384" height="0.91"/><rect x="850.41" y="364.75" width="2.384" height="0.78"/><rect x="852.79" y="363.50" width="2.384" height="0.79"/><rect x="855.17" y="358.10" width="2.384" height="0.83"/><rect x="857.56" y="362.75" width="2.384" height="0.79"/><rect x="859.94" y="354.00" width="2.384" height="0.86"/><rect x="862.33" y="362.75" width="2.384" height="0.79"/><rect x="864.71" y="362.25" width="2.384" height="0.80"/><rect x="867.09" y="368.10" width="2.384" height="0.75"/><rect x="869.48" y="360.10" width="2.384" height="0.82"/><rect x="871.86" y="340.60" width="2.384" height="0.97"/><rect x="874.24" y="343.10" width="2.384" height="0.95"/><rect x="876.63" y="353.50" width="2.384" height="0.87"/><rect x="879.01" y="363.10" width="2.384" height="0.79"/><rect x="881.40" y="349.40" width="2.384" height="0.90"/><rect x="883.78" y="350.00" width="2.384" height="0.90"/><rect x="886.16" y="342.40" width="2.384" height="0.96"/><rect x="888.55" y="329.00" width="2.384" height="1.06"/><rect x="890.93" y="459.80" width="2.384" height="2.20"/><rect x="893.31" y="338.80" width="2.384" height="0.99"/><rect x="895.70" y="460.60" width="2.384" height="1.40"/><rect x="898.08" y="339.40" width="2.384" height="0.98"/><rect x="900.46" y="348.70" width="2.384" height="0.91"/><rect x="902.85" y="351.90" width="2.384" height="0.88"/><rect x="905.23" y="293.30" width="2.384" height="1.35"/><rect x="907.62" y="301.00" width="2.384" height="1.29"/><rect x="910.00" y="300.50" width="2.384" height="1.29"/>
</g>
<rect x="47" y="461" width="868" height="1" fill="rgba(8,10,8,0.52)"/>
<g class="ax">

</g>
<g class="tt">
<text x="6.94" y="18.70" font-size="11.0" fill="#1d1d20" textLength="104.07" lengthAdjust="spacingAndGlyphs">Daily Tokens Created</text>
<text x="6.92" y="34.80" font-size="9.2" fill="#65656d" textLength="40.60" lengthAdjust="spacingAndGlyphs">Pump.fun</text>
<text x="28.73" y="475.10" font-size="9.6" fill="#6e6e76" textLength="38.71" lengthAdjust="spacingAndGlyphs">Jan 2025</text>
<text x="124.00" y="475.10" font-size="9.6" fill="#6e6e76" textLength="39.59" lengthAdjust="spacingAndGlyphs">Feb 2025</text>
<text x="218.62" y="475.10" font-size="9.6" fill="#6e6e76" textLength="40.43" lengthAdjust="spacingAndGlyphs">Mar 2025</text>
<text x="313.89" y="475.10" font-size="9.6" fill="#6e6e76" textLength="41.36" lengthAdjust="spacingAndGlyphs">May 2025</text>
<text x="410.07" y="475.10" font-size="9.6" fill="#6e6e76" textLength="39.10" lengthAdjust="spacingAndGlyphs">Jun 2025</text>
<text x="507.61" y="475.10" font-size="9.6" fill="#6e6e76" textLength="35.62" lengthAdjust="spacingAndGlyphs">Jul 2025</text>
<text x="599.83" y="475.10" font-size="9.6" fill="#6e6e76" textLength="40.73" lengthAdjust="spacingAndGlyphs">Sep 2025</text>
<text x="696.48" y="475.10" font-size="9.6" fill="#6e6e76" textLength="38.69" lengthAdjust="spacingAndGlyphs">Oct 2025</text>
<text x="791.05" y="475.10" font-size="9.6" fill="#6e6e76" textLength="40.39" lengthAdjust="spacingAndGlyphs">Nov 2025</text>
<text x="886.97" y="475.10" font-size="9.6" fill="#6e6e76" textLength="39.05" lengthAdjust="spacingAndGlyphs">Jan 2026</text>
<text x="26.34" y="123.20" font-size="9.35" fill="#6e6e76" textLength="14.95" lengthAdjust="spacingAndGlyphs">60k</text>
<text x="25.89" y="236.70" font-size="9.35" fill="#6e6e76" textLength="15.74" lengthAdjust="spacingAndGlyphs">40k</text>
<text x="26.36" y="350.05" font-size="9.35" fill="#6e6e76" textLength="15.24" lengthAdjust="spacingAndGlyphs">20k</text>
<text x="36.33" y="463.30" font-size="9.35" fill="#6e6e76" textLength="5.47" lengthAdjust="spacingAndGlyphs">0</text>
<text x="922.97" y="246.60" font-size="10.4" fill="#5a5a63" textLength="83.29" lengthAdjust="spacingAndGlyphs">Graduated Tokens</text>
<text x="948.11" y="261.00" font-size="10.4" fill="#5a5a63" textLength="58.14" lengthAdjust="spacingAndGlyphs">Daily Tokens</text>
<text x="21.88" y="490.00" font-size="9.3" fill="#28282c" textLength="56.51" lengthAdjust="spacingAndGlyphs">@adam_tehc</text>
</g>
<g class="lg">
<rect x="1010" y="239.8" width="7" height="6.6" rx="1.6" fill="#fcd1b8"/>
<rect x="1010" y="254.4" width="7" height="6.6" rx="1.6" fill="#c6f7be"/>
</g>
<defs><clipPath id="av"><circle cx="13.15" cy="486.05" r="5.95"/></clipPath></defs>
<g clip-path="url(#av)">
<rect x="7" y="480" width="13" height="13" fill="#eee8de"/>
<path d="M11.0 484.8 L11.3 482.6 L12.6 482.0 L15.2 482.1 L15.9 483.0 L15.9 484.8 Z" fill="#1f2433"/>
<path d="M13.2 482.1 L15.2 482.1 L15.9 483.0 L15.8 483.9 L13.4 483.6 Z" fill="#2f5d4f"/>
<path d="M9.8 485.3 L10.6 484.5 L16.4 484.4 L17.2 485.0 L16.2 485.6 L10.6 485.7 Z" fill="#1a1d28"/>
<path d="M12.1 485.4 L14.7 485.4 L14.6 487.8 L12.3 487.8 Z" fill="#7a6868"/>
<path d="M6.5 493 L7.4 489.2 L9.2 487.6 L12.0 487.2 L14.8 487.2 L17.0 488.0 L18.8 490.0 L19.5 493 Z" fill="#181b24"/>
<path d="M9.0 490.3 L9.6 488.6 L11.4 488.2 L12.6 489.0 L12.2 490.2 Z" fill="#b9b3a4"/>
<rect x="14.9" y="488.0" width="0.7" height="1.5" fill="#c9a544"/>
</g>
</svg>
</body></html>
